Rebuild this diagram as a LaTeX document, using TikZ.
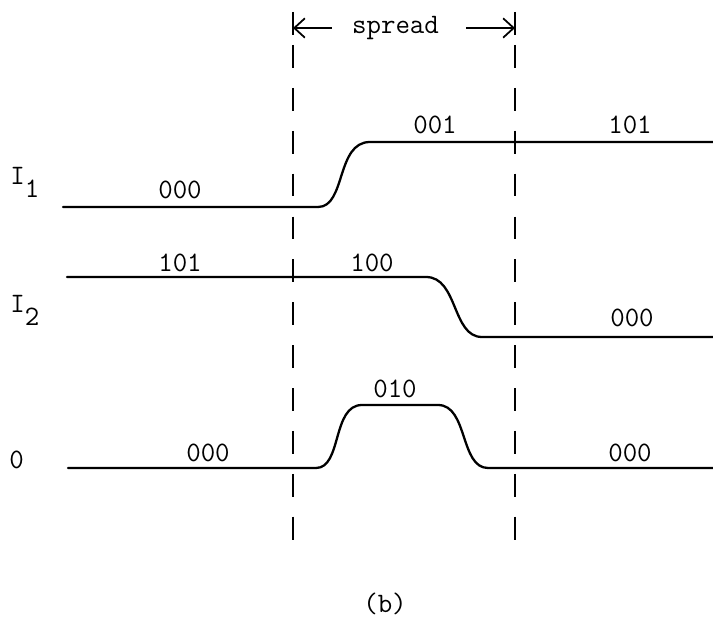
\documentclass[tikz,border=0pt]{standalone}
\usetikzlibrary{arrows.meta}
\tikzset{
  wave/.style={line width=1.3pt, line cap=round},
  guide/.style={line width=1.3pt, dash pattern=on 13pt off 11.4pt},
  lbl/.style={font=\ttfamily\fontsize{16}{18}\selectfont, inner sep=0pt},
}
\begin{document}
\begin{tikzpicture}[>={Straight Barb[length=6pt,width=11pt]}]
\useasboundingbox (0,0) rectangle (14.26,12.38);

% --- spread window ---
\coordinate (Ltop) at (5.86,11.48);
\coordinate (Lbot) at (5.86,1.54);
\coordinate (Rtop) at (10.3,11.48);
\coordinate (Rbot) at (10.3,1.54);
\draw[guide] (Ltop) -- (Lbot);
\draw[guide] (Rtop) -- (Rbot);
\draw[line width=1.3pt] (5.86,12.14) -- (5.86,11.68);
\draw[line width=1.3pt] (10.3,12.14) -- (10.3,11.68);

\node[lbl] (spread) at (7.91,11.82) {spread};
\draw[->, line width=1pt] ([xshift=-0.4cm]spread.west) -- (spread -| Ltop);
\draw[->, line width=1pt] ([xshift=0.54cm]spread.east) -- (spread -| Rtop);

% --- I1 ---
\draw[wave] (1.26,8.24) -- (6.36,8.24) .. controls (6.92,8.24) and (6.72,9.54) .. (7.4,9.54) -- (14.26,9.54);
\node[lbl, anchor=base west] (nI1) at (0.2,8.68) {I\raisebox{-7pt}{1}};
\node[lbl] (a1) at (3.6,8.58) {000};
\node[lbl] (a2) at (8.7,9.88) {001};
\node[lbl] (a3) at (12.6,9.88) {101};

% --- I2 ---
\draw[wave] (1.34,6.84) -- (8.52,6.84) .. controls (9.16,6.84) and (9.04,5.64) .. (9.64,5.64) -- (14.26,5.64);
\node[lbl, anchor=base west] (nI2) at (0.2,6.12) {I\raisebox{-7pt}{2}};
\node[lbl] (b1) at (3.6,7.12) {101};
\node[lbl] (b2) at (7.44,7.12) {100};
\node[lbl] (b3) at (12.64,6.02) {000};

% --- output ---
\draw[wave] (1.36,3.02) -- (6.32,3.02) .. controls (6.84,3.02) and (6.64,4.28) .. (7.24,4.28)
  -- (8.76,4.28) .. controls (9.36,4.28) and (9.2,3.02) .. (9.76,3.02) -- (14.26,3.02);
\node[lbl, anchor=base west] (nO) at (0.18,3.02) {0};
\node[lbl] (c1) at (4.16,3.32) {000};
\node[lbl] (c2) at (7.9,4.6) {010};
\node[lbl] (c3) at (12.6,3.32) {000};

\node[lbl] (cap) at (7.7,0.3) {(b)};
\end{tikzpicture}
\end{document}
